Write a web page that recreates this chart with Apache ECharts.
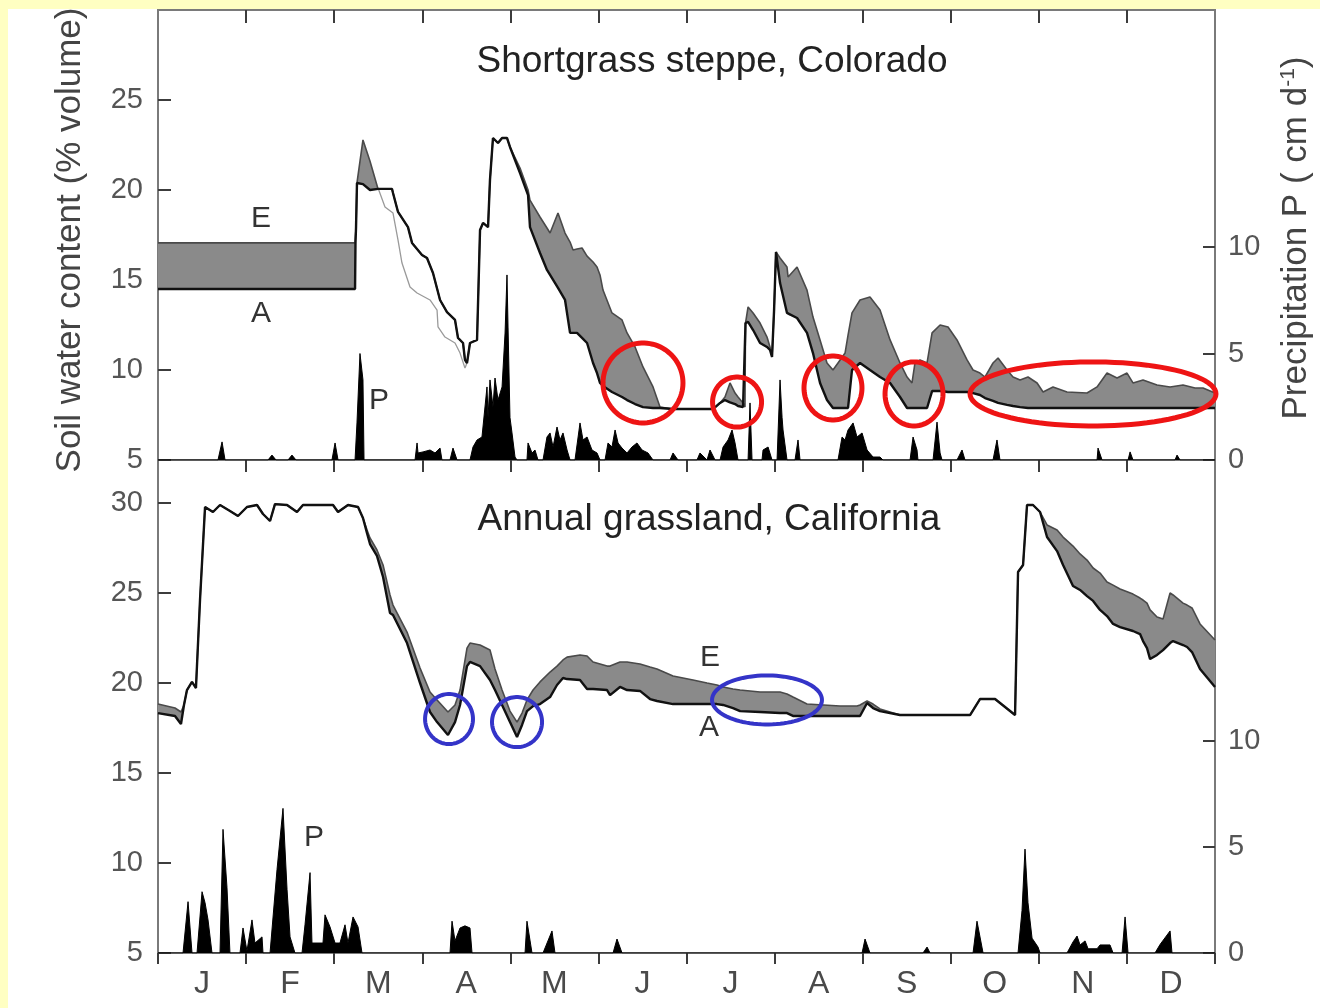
<!DOCTYPE html>
<html>
<head>
<meta charset="utf-8">
<script src="https://cdn.jsdelivr.net/npm/echarts@6/dist/echarts.min.js"></script>
<style>
  html, body { margin: 0; padding: 0; background: #ffffff; }
  #chart { width: 1320px; height: 1008px; }
</style>
</head>
<body>
<div id="chart"></div>
<script>
// Month letters shown under the lower panel; x is measured in months (0 = 1 Jan, 12 = 31 Dec)
const monthLabels = ['J', 'F', 'M', 'A', 'M', 'J', 'J', 'A', 'S', 'O', 'N', 'D'];
const monthEdges = [0, 1, 2, 3, 4, 5, 6, 7, 8, 9, 10, 11, 12];
const monthMiddles = [0.5, 1.5, 2.5, 3.5, 4.5, 5.5, 6.5, 7.5, 8.5, 9.5, 10.5, 11.5];
const soilTicksTop = [5, 10, 15, 20, 25];
const soilTicksBottom = [5, 10, 15, 20, 25, 30];
const rainTicks = [0, 5, 10];

// Shortgrass steppe, Colorado: [month, A (actual), E (expected)] soil water, % volume
const coloradoSoil = [
  [0, 14.5, 17.06], [2.237, 14.5, 17.06], [2.242, 17.06, 17.06], [2.248, 17.89, 17.89],
  [2.259, 20.39, 20.39], [2.327, 20.33, 22.78], [2.407, 20.0, 21.6], [2.498, 20.06, 20.06],
  [2.657, 20.06, 20.06], [2.668, 19.83, 19.83], [2.725, 18.78, 18.78], [2.838, 17.94, 17.94],
  [2.884, 17.06, 17.06], [2.997, 16.39, 16.39], [3.054, 16.22, 16.22], [3.122, 15.39, 15.39],
  [3.202, 13.89, 13.89], [3.281, 13.22, 13.22], [3.372, 12.78, 12.78], [3.406, 11.78, 11.78],
  [3.463, 11.5, 11.5], [3.485, 10.56, 10.56], [3.508, 10.39, 10.39], [3.542, 11.5, 11.5],
  [3.622, 11.67, 11.67], [3.656, 17.78, 17.78], [3.690, 18.17, 18.17], [3.747, 17.94, 17.94],
  [3.769, 20.56, 20.56], [3.803, 22.89, 22.89], [3.860, 22.61, 22.61], [3.906, 22.89, 22.89],
  [3.962, 22.89, 22.89], [3.996, 22.39, 22.39], [4.110, 20.94, 21.22], [4.201, 19.72, 20.0],
  [4.223, 17.94, 19.44], [4.337, 16.5, 18.5], [4.416, 15.56, 17.89], [4.451, 15.28, 17.61],
  [4.541, 14.56, 18.72], [4.621, 13.89, 17.61], [4.678, 12.06, 17.11], [4.712, 12.06, 16.67],
  [4.757, 12.06, 16.72], [4.814, 11.78, 16.78], [4.871, 11.5, 16.33], [4.939, 10.39, 16.0],
  [4.984, 9.83, 15.72], [5.018, 9.28, 15.28], [5.052, 9.11, 14.44], [5.154, 8.78, 13.17],
  [5.268, 8.5, 12.78], [5.325, 8.33, 12.06], [5.416, 8.11, 11.28], [5.506, 7.94, 10.17],
  [5.620, 7.89, 9.06], [5.699, 7.89, 7.94], [5.847, 7.83, 7.83], [6.301, 7.83, 7.83],
  [6.381, 8.17, 8.17], [6.437, 8.33, 8.5], [6.494, 8.2, 9.28], [6.551, 8.11, 8.72],
  [6.585, 8.0, 8.5], [6.642, 7.94, 8.17], [6.664, 7.94, 7.94], [6.670, 12.61, 12.61],
  [6.699, 12.67, 13.5], [6.756, 12.22, 13.17], [6.835, 11.5, 12.61], [6.914, 11.28, 11.83],
  [6.948, 11.11, 11.28], [6.971, 10.72, 10.72], [6.994, 13.3, 13.3], [7.016, 16.56, 16.56],
  [7.062, 14.83, 16.22], [7.141, 13.17, 15.72], [7.153, 13.06, 15.17], [7.255, 12.89, 15.72],
  [7.368, 12.06, 14.44], [7.436, 10.94, 12.94], [7.516, 9.28, 11.67], [7.595, 8.33, 10.39],
  [7.663, 7.89, 10.0], [7.720, 7.89, 10.39], [7.800, 7.89, 10.94], [7.834, 7.89, 11.94],
  [7.879, 10.0, 13.17], [7.970, 10.39, 13.89], [8.083, 10.0, 14.06], [8.197, 9.61, 13.33],
  [8.311, 9.28, 11.67], [8.424, 8.5, 10.39], [8.504, 7.89, 9.61], [8.560, 7.89, 9.28],
  [8.594, 7.89, 10.39], [8.651, 7.89, 10.56], [8.731, 7.89, 10.39], [8.788, 8.83, 12.06],
  [8.879, 8.83, 12.5], [8.969, 8.78, 12.39], [9.071, 8.78, 11.67], [9.185, 8.78, 10.56],
  [9.253, 8.72, 10.0], [9.332, 8.61, 9.83], [9.389, 8.44, 9.61], [9.480, 8.28, 10.39],
  [9.537, 8.17, 10.67], [9.639, 8.06, 10.0], [9.707, 8.0, 9.61], [9.787, 7.94, 9.44],
  [9.877, 7.89, 9.61], [9.980, 7.89, 9.28], [10.048, 7.89, 8.78], [10.161, 7.89, 9.06],
  [10.320, 7.89, 8.78], [10.547, 7.89, 8.72], [10.661, 7.89, 9.06], [10.774, 7.89, 9.83],
  [10.888, 7.89, 9.56], [11.001, 7.89, 9.83], [11.069, 7.89, 9.28], [11.183, 7.89, 9.44],
  [11.342, 7.89, 9.17], [11.490, 7.89, 9.06], [11.637, 7.89, 9.17], [11.773, 7.89, 9.0],
  [11.864, 7.89, 9.0], [12, 7.89, 8.72]
];

// Second (light) soil water trace during the spring dry-down, Colorado
const coloradoSpringTrace = [
  [2.498, 20.11], [2.577, 19.06], [2.668, 18.72], [2.725, 17.22], [2.770, 15.94],
  [2.861, 14.61], [2.941, 14.28], [3.088, 13.89], [3.168, 13.33], [3.179, 12.39],
  [3.258, 11.83], [3.372, 11.5], [3.429, 10.94], [3.485, 10.11], [3.508, 10.39]
];

// Daily precipitation P, Colorado: [month, cm/d]
const coloradoRain = [
  [0, 0], [0.681, 0], [0.727, 0.85], [0.761, 0], [1.249, 0], [1.294, 0.23], [1.340, 0],
  [1.476, 0], [1.521, 0.23], [1.567, 0], [1.975, 0], [2.010, 0.8], [2.044, 0],
  [2.237, 0], [2.259, 1.74], [2.293, 5.0], [2.327, 3.76], [2.339, 0],
  [2.918, 0], [2.941, 0.8], [2.952, 0.33], [3.009, 0.38], [3.088, 0.47], [3.145, 0.33], [3.202, 0.56], [3.224, 0],
  [3.315, 0], [3.349, 0.56], [3.395, 0],
  [3.542, 0], [3.576, 0.61], [3.622, 0.94], [3.678, 1.08], [3.735, 3.43], [3.747, 2.0], [3.769, 3.76],
  [3.803, 2.5], [3.826, 3.85], [3.860, 2.82], [3.906, 3.43], [3.940, 5.96], [3.962, 8.69], [3.974, 6.24],
  [3.996, 2.0], [4.019, 1.27], [4.053, 0.14], [4.076, 0],
  [4.189, 0], [4.201, 0.8], [4.246, 0.33], [4.280, 0.47], [4.314, 0],
  [4.371, 0], [4.416, 1.08], [4.451, 1.27], [4.485, 0.61], [4.530, 1.55], [4.564, 0.94], [4.598, 1.27], [4.644, 0.47], [4.678, 0],
  [4.734, 0], [4.791, 1.74], [4.825, 0.94], [4.871, 1.08], [4.927, 0.47], [4.984, 0.33], [5.018, 0],
  [5.075, 0], [5.109, 0.8], [5.154, 0.61], [5.189, 1.41], [5.223, 0.8], [5.268, 0.56], [5.325, 0.33],
  [5.381, 0.61], [5.438, 0.8], [5.495, 0.47], [5.563, 0.33], [5.620, 0],
  [5.813, 0], [5.847, 0.33], [5.904, 0],
  [6.119, 0], [6.153, 0.33], [6.233, 0], [6.267, 0.47], [6.324, 0],
  [6.381, 0], [6.415, 0.61], [6.472, 0.94], [6.517, 1.41], [6.551, 0.8], [6.585, 0],
  [6.699, 0], [6.721, 2.68], [6.744, 0],
  [6.857, 0], [6.869, 0.47], [6.926, 0.61], [6.971, 0],
  [7.028, 0], [7.062, 3.76], [7.085, 2.0], [7.096, 1.41], [7.141, 0],
  [7.232, 0], [7.266, 0.94], [7.289, 0],
  [7.720, 0], [7.766, 1.08], [7.800, 0.94], [7.834, 1.41], [7.891, 1.74], [7.936, 1.08], [7.993, 1.27],
  [8.050, 0.47], [8.118, 0.14], [8.197, 0.14], [8.231, 0],
  [8.538, 0], [8.572, 1.08], [8.617, 0.47], [8.628, 0],
  [8.799, 0], [8.844, 1.78], [8.879, 0.33], [8.901, 0],
  [9.071, 0], [9.128, 0.47], [9.162, 0],
  [9.480, 0], [9.525, 0.94], [9.559, 0],
  [10.661, 0], [10.672, 0.56], [10.718, 0],
  [11.013, 0], [11.036, 0.38], [11.069, 0],
  [11.546, 0], [11.569, 0.23], [11.603, 0], [12, 0]
];

// Annual grassland, California: [month, A (actual), E (expected)] soil water, % volume
const californiaSoil = [
  [0, 18.33, 18.83], [0.193, 18.17, 18.61], [0.261, 17.72, 18.39], [0.295, 18.78, 18.78],
  [0.329, 19.61, 19.61], [0.386, 20.06, 20.06], [0.431, 19.72, 19.72], [0.477, 24.61, 24.61],
  [0.534, 29.78, 29.78], [0.624, 29.5, 29.5], [0.704, 29.89, 29.89], [0.817, 29.56, 29.56],
  [0.908, 29.28, 29.28], [1.010, 29.78, 29.78], [1.124, 29.89, 29.89], [1.192, 29.39, 29.39],
  [1.272, 29.0, 29.0], [1.328, 29.94, 29.94], [1.465, 29.89, 29.89], [1.578, 29.5, 29.5],
  [1.646, 29.89, 29.89], [1.839, 29.89, 29.89], [1.987, 29.89, 29.89], [2.044, 29.5, 29.5],
  [2.157, 29.89, 29.89], [2.271, 29.78, 29.78], [2.327, 29.17, 29.17], [2.373, 28.33, 28.5],
  [2.407, 27.72, 28.06], [2.486, 27.06, 27.39], [2.555, 25.89, 26.56], [2.634, 23.89, 24.89],
  [2.668, 23.78, 24.33], [2.827, 22.22, 22.83], [2.975, 20.0, 20.83], [3.088, 18.39, 19.5],
  [3.168, 17.83, 19.06], [3.292, 17.11, 18.39], [3.372, 17.83, 18.78], [3.429, 18.78, 19.61],
  [3.508, 20.94, 21.94], [3.542, 21.17, 22.22], [3.656, 20.94, 22.11], [3.769, 20.17, 21.83],
  [3.826, 19.61, 20.78], [3.906, 18.78, 19.61], [3.996, 17.83, 18.44], [4.076, 17.0, 17.83],
  [4.133, 17.67, 18.33], [4.189, 18.44, 19.06], [4.258, 18.72, 19.61], [4.337, 18.83, 20.06],
  [4.451, 19.22, 20.61], [4.530, 19.89, 20.94], [4.598, 20.28, 21.28], [4.644, 20.22, 21.44],
  [4.791, 20.17, 21.56], [4.871, 19.67, 21.5], [4.939, 19.67, 21.17], [5.098, 19.61, 20.94],
  [5.132, 19.33, 20.94], [5.245, 19.78, 21.17], [5.325, 19.61, 21.17], [5.472, 19.56, 21.06],
  [5.586, 19.11, 20.89], [5.665, 19.0, 20.78], [5.847, 18.83, 20.39], [6.074, 18.83, 20.17],
  [6.233, 18.83, 20.0], [6.346, 18.83, 19.89], [6.415, 18.78, 19.78], [6.528, 18.61, 19.67],
  [6.608, 18.44, 19.61], [6.835, 18.39, 19.5], [7.062, 18.33, 19.5], [7.141, 18.33, 19.39],
  [7.209, 18.17, 19.22], [7.368, 18.17, 18.83], [7.743, 18.17, 18.72], [7.936, 18.17, 18.72],
  [7.970, 18.17, 18.78], [8.050, 18.89, 19.0], [8.118, 18.61, 18.83], [8.197, 18.44, 18.56],
  [8.424, 18.22, 18.22], [9.219, 18.22, 18.22], [9.332, 19.11, 19.11], [9.503, 19.11, 19.11],
  [9.730, 18.22, 18.22], [9.764, 26.17, 26.17], [9.821, 26.56, 26.56], [9.866, 29.89, 29.89],
  [9.934, 29.89, 29.89], [10.014, 29.5, 29.5], [10.093, 28.11, 28.78], [10.207, 27.33, 28.5],
  [10.275, 26.56, 28.11], [10.388, 25.39, 27.61], [10.468, 25.17, 27.17], [10.547, 24.83, 26.83],
  [10.616, 24.56, 26.39], [10.695, 24.06, 26.11], [10.774, 23.72, 25.61], [10.843, 23.28, 25.44],
  [10.922, 23.11, 25.22], [11.069, 22.89, 24.94], [11.149, 22.72, 24.72], [11.183, 22.33, 24.61],
  [11.228, 21.94, 24.44], [11.263, 21.33, 24.06], [11.342, 21.56, 23.67], [11.410, 21.83, 23.56],
  [11.490, 22.22, 25.0], [11.524, 22.33, 24.89], [11.637, 22.11, 24.44], [11.683, 22.0, 24.33],
  [11.739, 21.72, 24.17], [11.830, 20.78, 23.28], [12, 19.78, 22.39]
];

// Daily precipitation P, California: [month, cm/d]
const californiaRain = [
  [0, 0], [0.284, 0], [0.341, 2.42], [0.386, 0], [0.443, 0], [0.500, 2.89], [0.534, 2.37], [0.568, 1.56],
  [0.613, 0], [0.704, 0], [0.738, 5.83], [0.783, 3.1], [0.817, 0], [0.931, 0], [0.965, 1.18],
  [1.010, 0.09], [1.067, 1.56], [1.101, 0.47], [1.181, 0.76], [1.192, 0], [1.272, 0], [1.351, 3.93],
  [1.419, 6.82], [1.465, 3.0], [1.499, 0.76], [1.555, 0], [1.635, 0], [1.669, 1.33], [1.726, 3.79],
  [1.748, 0.47], [1.873, 0.47], [1.896, 1.8], [1.953, 1.23], [2.010, 0.47], [2.066, 0.47],
  [2.123, 1.33], [2.157, 0.47], [2.214, 1.7], [2.271, 1.23], [2.316, 0],
  [3.315, 0], [3.338, 1.5], [3.372, 0.57], [3.429, 1.18], [3.485, 1.28], [3.542, 1.18], [3.565, 0],
  [4.167, 0], [4.189, 1.5], [4.246, 0], [4.371, 0], [4.473, 1.04], [4.507, 0],
  [5.166, 0], [5.211, 0.66], [5.268, 0],
  [7.993, 0], [8.027, 0.66], [8.083, 0],
  [8.685, 0], [8.731, 0.28], [8.765, 0],
  [9.253, 0], [9.298, 1.5], [9.367, 0],
  [9.764, 0], [9.809, 2.0], [9.843, 4.9], [9.877, 2.37], [9.923, 0.7], [9.991, 0.28], [10.014, 0],
  [10.320, 0], [10.388, 0.52], [10.434, 0.8], [10.468, 0.38], [10.525, 0.57], [10.559, 0.2],
  [10.661, 0.2], [10.695, 0.38], [10.808, 0.38], [10.843, 0],
  [10.945, 0], [10.979, 1.7], [11.013, 0],
  [11.319, 0], [11.376, 0.4], [11.490, 1.04], [11.512, 0], [12, 0]
];

// Highlight rings, in axis units: [centre month, centre % volume, half-width in months, half-height in % volume]
const coloradoRings = [
  [5.506, 9.28, 0.454, 2.22],
  [6.574, 8.22, 0.278, 1.39],
  [7.663, 9.0, 0.329, 1.78],
  [8.583, 8.67, 0.329, 1.78],
  [10.615, 8.67, 1.396, 1.78]
];
const californiaRings = [
  [3.304, 18.0, 0.272, 1.39],
  [4.076, 17.83, 0.284, 1.39],
  [6.914, 19.06, 0.624, 1.36]
];

const FONT = '"Liberation Sans", Arial, Helvetica, sans-serif';
const AXIS_GREY = '#7a7a7a';
const TICK_DARK = '#3c3c3c';

const chart = echarts.init(document.getElementById('chart'), null, { renderer: 'canvas' });

function soilSeries(rows, xi, yi) {
  return [
    { // shaded gap between the expected (E) and actual (A) curves
      type: 'custom', xAxisIndex: xi, yAxisIndex: yi, silent: true, z: 2,
      data: rows,
      renderItem: function (params, api) {
        if (params.dataIndex !== 0) return null;
        const upper = rows.map(r => api.coord([r[0], r[2]]));
        const lower = rows.map(r => api.coord([r[0], r[1]])).reverse();
        return {
          type: 'polygon',
          shape: { points: upper.concat(lower) },
          style: { fill: '#8a8a8a', stroke: null }
        };
      }
    },
    { // E line
      type: 'line', xAxisIndex: xi, yAxisIndex: yi, symbol: 'none', silent: true, z: 3,
      lineStyle: { color: '#4a4a4a', width: 1.6 },
      data: rows.map(r => [r[0], r[2]])
    },
    { // A line
      type: 'line', xAxisIndex: xi, yAxisIndex: yi, symbol: 'none', silent: true, z: 4,
      lineStyle: { color: '#111111', width: 2.4 },
      data: rows.map(r => [r[0], r[1]])
    }
  ];
}

function rainSeries(rows, xi, yi) {
  return {
    type: 'line', xAxisIndex: xi, yAxisIndex: yi, symbol: 'none', silent: true, z: 1,
    lineStyle: { color: '#000000', width: 1 },
    areaStyle: { color: '#000000', opacity: 1 },
    data: rows
  };
}

function ringSeries(rows, xi, yi, colour, width) {
  return {
    type: 'custom', xAxisIndex: xi, yAxisIndex: yi, silent: true, clip: false, z: 10,
    data: rows,
    renderItem: function (params, api) {
      const c = api.coord([api.value(0), api.value(1)]);
      const s = api.size([api.value(2), api.value(3)]);
      const pts = [];
      for (let k = 0; k < 90; k++) {
        const t = (k / 90) * Math.PI * 2;
        pts.push([c[0] + s[0] * Math.cos(t), c[1] + s[1] * Math.sin(t)]);
      }
      return {
        type: 'polygon',
        shape: { points: pts },
        style: { fill: 'none', stroke: colour, lineWidth: width }
      };
    }
  };
}

function monthAxis(gridIndex, position, opts) {
  return Object.assign({
    type: 'value', gridIndex: gridIndex, position: position, min: 0, max: 12,
    axisLine: { show: true, onZero: false, lineStyle: { color: AXIS_GREY, width: 2 } },
    splitLine: { show: false },
    axisLabel: { show: false }
  }, opts);
}

function soilAxis(gridIndex, min, max, ticks) {
  return {
    type: 'value', gridIndex: gridIndex, position: 'left', min: min, max: max,
    axisLine: { show: true, onZero: false, lineStyle: { color: AXIS_GREY, width: 2 } },
    axisTick: { show: true, inside: true, length: 13, lineStyle: { color: TICK_DARK, width: 2 }, customValues: ticks },
    axisLabel: { show: true, margin: 15, color: '#555555', fontSize: 29, fontFamily: FONT, customValues: ticks },
    splitLine: { show: false }
  };
}

function rainAxis(gridIndex, max) {
  return {
    type: 'value', gridIndex: gridIndex, position: 'right', min: 0, max: max,
    axisLine: { show: true, onZero: false, lineStyle: { color: AXIS_GREY, width: 2 } },
    axisTick: { show: true, inside: true, length: 12, lineStyle: { color: TICK_DARK, width: 2 }, customValues: rainTicks },
    axisLabel: { show: true, margin: 13, color: '#555555', fontSize: 29, fontFamily: FONT, customValues: rainTicks },
    splitLine: { show: false }
  };
}

const textStyle = (size, colour, text) => ({
  text: text, fontSize: size, fontFamily: FONT, fill: colour, align: 'center', verticalAlign: 'middle'
});

const option = {
  animation: false,
  backgroundColor: '#ffffff',
  grid: [
    { left: 158, top: 10, width: 1057, height: 450, show: true, borderColor: AXIS_GREY, borderWidth: 2, backgroundColor: 'transparent' },
    { left: 158, top: 460, width: 1057, height: 493, show: true, borderColor: AXIS_GREY, borderWidth: 2, backgroundColor: 'transparent' }
  ],
  xAxis: [
    monthAxis(0, 'bottom', {
      axisTick: { show: true, inside: false, length: 12, lineStyle: { color: TICK_DARK, width: 2 }, customValues: monthEdges.slice(1, 12) }
    }),
    monthAxis(0, 'top', {
      axisTick: { show: true, inside: true, length: 13, lineStyle: { color: TICK_DARK, width: 2 }, customValues: monthEdges.slice(1, 12) }
    }),
    monthAxis(1, 'bottom', {
      axisTick: { show: true, inside: false, length: 11, lineStyle: { color: TICK_DARK, width: 2 }, customValues: monthEdges },
      axisLabel: {
        show: true, margin: 15, color: '#4a4a4a', fontSize: 32, fontFamily: FONT,
        customValues: monthMiddles,
        formatter: v => monthLabels[Math.floor(v)] || ''
      }
    })
  ],
  yAxis: [
    soilAxis(0, 5, 30, soilTicksTop),
    rainAxis(0, 21.13),
    soilAxis(1, 5, 32.39, soilTicksBottom),
    rainAxis(1, 23.25)
  ],
  series: [
    rainSeries(coloradoRain, 0, 1),
    ...soilSeries(coloradoSoil, 0, 0),
    {
      type: 'line', xAxisIndex: 0, yAxisIndex: 0, symbol: 'none', silent: true, z: 3,
      lineStyle: { color: '#9a9a9a', width: 1.3 },
      data: coloradoSpringTrace
    },
    rainSeries(californiaRain, 2, 3),
    ...soilSeries(californiaSoil, 2, 2),
    ringSeries(coloradoRings, 0, 0, '#ee1414', 5),
    ringSeries(californiaRings, 2, 2, '#3434c8', 4)
  ],
  graphic: [
    { type: 'rect', z: 100, shape: { x: 0, y: 0, width: 8, height: 1008 }, style: { fill: '#ffffc2' } },
    { type: 'rect', z: 100, shape: { x: 0, y: 0, width: 1320, height: 9 }, style: { fill: '#ffffc2' } },
    { type: 'text', z: 50, x: 712, y: 62, silent: true, style: textStyle(37, '#222222', 'Shortgrass steppe, Colorado') },
    { type: 'text', z: 50, x: 709, y: 520, silent: true, style: textStyle(37, '#222222', 'Annual grassland, California') },
    { type: 'text', z: 50, x: 261, y: 219, silent: true, style: textStyle(30, '#333333', 'E') },
    { type: 'text', z: 50, x: 261, y: 314, silent: true, style: textStyle(30, '#333333', 'A') },
    { type: 'text', z: 50, x: 379, y: 401, silent: true, style: textStyle(30, '#333333', 'P') },
    { type: 'text', z: 50, x: 710, y: 658, silent: true, style: textStyle(30, '#333333', 'E') },
    { type: 'text', z: 50, x: 709, y: 728, silent: true, style: textStyle(30, '#333333', 'A') },
    { type: 'text', z: 50, x: 314, y: 838, silent: true, style: textStyle(30, '#333333', 'P') },
    { type: 'text', z: 50, x: 70, y: 240, rotation: Math.PI / 2, silent: true,
      style: textStyle(35, '#444444', 'Soil water content (% volume)') },
    { type: 'text', z: 50, x: 1296, y: 238, rotation: Math.PI / 2, silent: true,
      style: {
        text: '{n|Precipitation P ( cm d}{s|-1}{n|)}',
        align: 'center', verticalAlign: 'middle',
        rich: {
          n: { fontSize: 35, fontFamily: FONT, fill: '#444444', lineHeight: 36 },
          s: { fontSize: 21, fontFamily: FONT, fill: '#444444', verticalAlign: 'top', lineHeight: 36, padding: [0, 0, 14, 0] }
        }
      } }
  ]
};

chart.setOption(option);
</script>
</body>
</html>
